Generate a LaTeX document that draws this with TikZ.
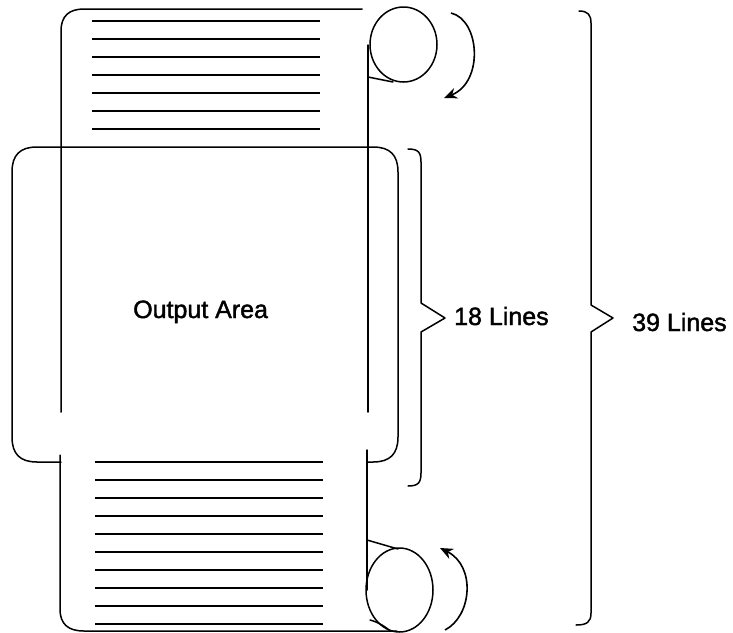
\documentclass[tikz,border=0pt]{standalone}
\usepackage{fontspec}
\setmainfont{Liberation Sans}
\usetikzlibrary{arrows.meta}
\tikzset{
  outline/.style={line width=1.5pt, line join=round, line cap=round},
  rule/.style={line width=1.6pt},
  turn/.style={line width=1.6pt, -{Stealth[length=13pt,width=11pt]}},
  label/.style={inner sep=0pt, font=\fontsize{25}{28}\selectfont\addfontfeature{FakeBold=1.6}}
}
\begin{document}
\begin{tikzpicture}[x=1pt,y=-1pt]
\useasboundingbox (0,0) rectangle (733,632);
% rollers
\coordinate (topR) at (403.5,44.5);
\coordinate (botR) at (399.5,590);
\draw[outline] (topR) ellipse [x radius=33.5, y radius=37.5];
\draw[outline] (botR) ellipse [x radius=33.5, y radius=42];
% paper, upper part
\draw[outline] (61,412) -- (61,31) .. controls (61,16) and (69,9) .. (84,9) -- (362,9);
\draw[outline] (368,45) -- (368,412);
\draw[outline] (368,77) -- (393,82);
% paper, lower part
\draw[outline] (60,455) -- (60,609) .. controls (60,624) and (68,631) .. (84,631) -- (397,631);
\draw[outline] (367,450) -- (367,590);
\draw[outline] (367,540) -- (398,549);
\draw[outline] (370,620) .. controls (378,622) and (386,627) .. (390,631);
% ruled lines
\foreach \y in {21,39,57,75,93,111,129}
  \draw[rule] (92,\y) -- (320,\y);
\foreach \y in {462,480,498,516,534,552,570,588,606,624}
  \draw[rule] (95,\y) -- (323,\y);
% output area window
\draw[outline] (61,462) -- (37,462) .. controls (20,462) and (12,454) .. (12,437)
  -- (12,172) .. controls (12,155) and (20,147) .. (37,147)
  -- (373,147) .. controls (390,147) and (398,155) .. (398,172)
  -- (398,437) .. controls (398,454) and (390,462) .. (373,462) -- (367,462);
\node[label, anchor=base west] (out) at (133,318) {Output Area};
% rotation arrows
\draw[turn] (451,13) .. controls (480,20) and (484,82) .. (444,98);
\draw[turn] (445,630) .. controls (472,616) and (476,566) .. (440,548);
% braces
\draw[outline] (408,149) .. controls (418,149) and (421,152) .. (421,162)
  -- (421,303) -- (445,318) -- (421,332) -- (421,473)
  .. controls (421,483) and (418,486) .. (408,486);
\node[label, anchor=base west] (l18) at (454,325) {18 Lines};
\draw[outline] (579,11) .. controls (588,11) and (591,15) .. (591,23)
  -- (591,305) -- (613,318) -- (591,332) -- (591,613)
  .. controls (591,622) and (587,625) .. (576,625);
\node[label, anchor=base west] (l39) at (632,331) {39 Lines};
\end{tikzpicture}
\end{document}
